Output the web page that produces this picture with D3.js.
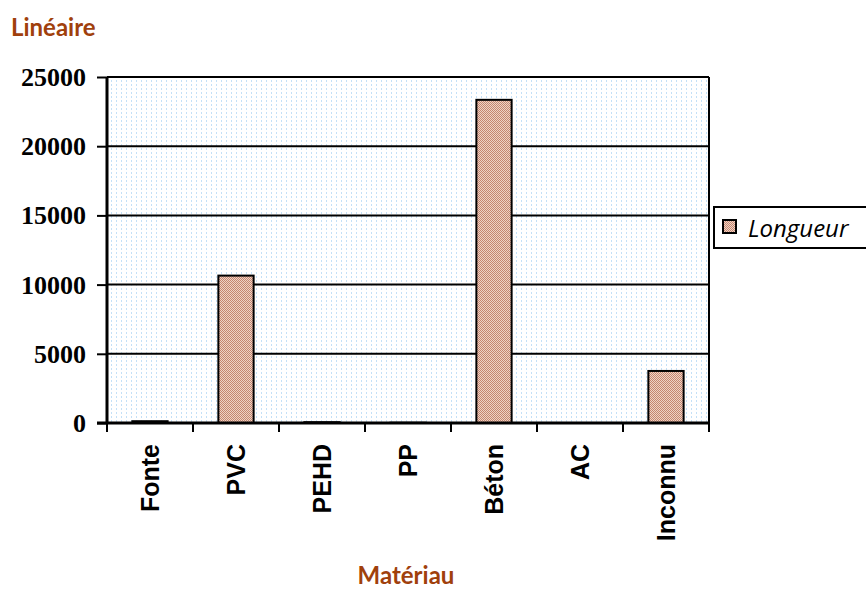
<!DOCTYPE html>
<html><head><meta charset="utf-8">
<script src="https://cdn.jsdelivr.net/npm/d3@7"></script>
<style>body{margin:0;background:#fff}</style>
</head><body>
<svg id="c" width="866" height="590"></svg>
<script>
const categories = ["Fonte","PVC","PEHD","PP","Béton","AC","Inconnu"];
const values = [130, 10650, 60, 20, 23350, 0, 3760];
const yTicks = [0,5000,10000,15000,20000,25000];
const seriesName = "Longueur";
const title = "Linéaire";
const xTitle = "Matériau";

const svg = d3.select("#c");
const L=107, R=709, T=77, B=423;
const x = d3.scaleBand().domain(categories).range([L,R]).paddingInner(0.59).paddingOuter(0.295);
const y = d3.scaleLinear().domain([0,25000]).range([B,T]);

const defs = svg.append("defs");
const bg = defs.append("pattern").attr("id","bgp").attr("patternUnits","userSpaceOnUse").attr("width",5).attr("height",4);
bg.append("rect").attr("width",5).attr("height",4).attr("fill","#fff");
bg.append("rect").attr("x",1).attr("y",0).attr("width",1).attr("height",2).attr("fill","#c4e0f7");
const bp = defs.append("pattern").attr("id","barp").attr("patternUnits","userSpaceOnUse").attr("width",2).attr("height",2);
bp.append("rect").attr("width",2).attr("height",2).attr("fill","#efd3c5");
bp.append("rect").attr("x",0).attr("y",0).attr("width",1).attr("height",1).attr("fill","#c48670");
bp.append("rect").attr("x",1).attr("y",1).attr("width",1).attr("height",1).attr("fill","#c48670");

svg.append("rect").attr("x",L).attr("y",T).attr("width",R-L).attr("height",B-T).attr("fill","url(#bgp)");

// gridlines
svg.append("g").selectAll("line").data(yTicks.filter(d=>d>0)).join("line")
  .attr("x1",L).attr("x2",R).attr("y1",d=>y(d)).attr("y2",d=>y(d))
  .attr("stroke","#000").attr("stroke-width",2);
// right border
svg.append("line").attr("x1",R).attr("x2",R).attr("y1",T).attr("y2",B).attr("stroke","#000").attr("stroke-width",2);

// bars
svg.append("g").selectAll("rect").data(categories).join("rect")
  .attr("x",d=>x(d)).attr("width",x.bandwidth())
  .attr("y",(d,i)=>y(values[i])).attr("height",(d,i)=>B-y(values[i]))
  .attr("fill","url(#barp)").attr("stroke","#000").attr("stroke-width",2)
  .attr("display",(d,i)=>values[i]>0?null:"none");

// y axis
const ya = svg.append("g").attr("transform",`translate(${L},0)`)
  .call(d3.axisLeft(y).tickValues(yTicks).tickSize(10).tickPadding(11).tickFormat(d3.format("d")));
ya.select(".domain").attr("stroke","#000").attr("stroke-width",3).attr("d",`M0,${T}V${B}`);
ya.selectAll(".tick line").attr("stroke","#000").attr("stroke-width",2);
ya.selectAll("text").attr("font-family","Liberation Serif").attr("font-weight","bold").attr("font-size",26).attr("fill","#000").attr("dy","0.33em");

// x axis
const xs = d3.scalePoint().domain(d3.range(categories.length+1)).range([L,R]);
const xa = svg.append("g").attr("transform",`translate(0,${B})`);
xa.append("line").attr("x1",L-10).attr("x2",R).attr("y1",0).attr("y2",0).attr("stroke","#000").attr("stroke-width",3);
xa.selectAll("line.t").data(d3.range(categories.length+1)).join("line").attr("class","t")
  .attr("x1",d=>xs(d)).attr("x2",d=>xs(d)).attr("y1",0).attr("y2",9).attr("stroke","#000").attr("stroke-width",2);
xa.selectAll("text").data(categories).join("text")
  .attr("transform",d=>`translate(${x(d)+x.bandwidth()/2+9},21) rotate(-90)`)
  .attr("text-anchor","end").attr("font-family","Liberation Sans").attr("font-weight","bold").attr("font-size",25).attr("fill","#000")
  .text(d=>d);

// titles
svg.append("text").attr("x",11).attr("y",36).attr("font-family","Lato").attr("font-weight","bold").attr("font-size",24).attr("fill","#a0400c").text(title);
svg.append("text").attr("x",406).attr("y",584).attr("text-anchor","middle").attr("font-family","Lato").attr("font-weight","bold").attr("font-size",24).attr("fill","#a0400c").text(xTitle);

// legend
const lg = svg.append("g");
lg.append("rect").attr("x",714).attr("y",207).attr("width",160).attr("height",41).attr("fill","#fff").attr("stroke","#000").attr("stroke-width",2);
lg.append("rect").attr("x",723).attr("y",220).attr("width",13).attr("height",13).attr("fill","url(#barp)").attr("stroke","#000").attr("stroke-width",2);
lg.append("text").attr("x",748).attr("y",237).attr("font-family","Open Sans").attr("font-style","italic").attr("font-size",24).attr("fill","#000").text(seriesName);
</script>
</body></html>
